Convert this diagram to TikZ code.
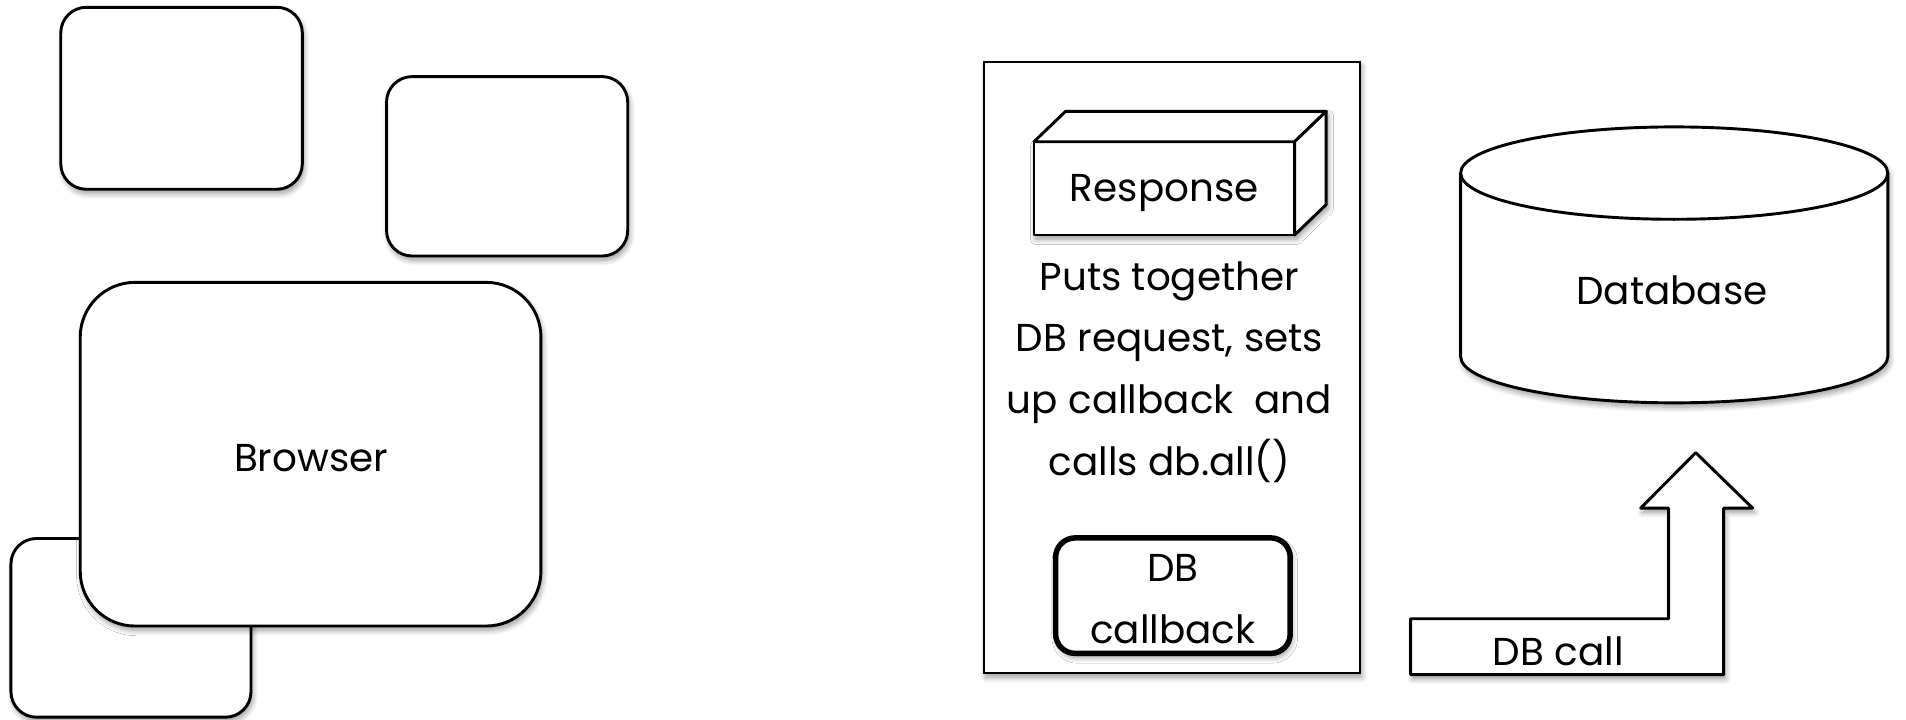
\documentclass[tikz,border=0pt]{standalone}
\usepackage{fontspec}
\setmainfont{Poppins}
\usetikzlibrary{shadows.blur}
\begin{document}
\begin{tikzpicture}[x=1pt,y=-1pt,
  softshadow/.style={blur shadow={shadow xshift=1.5pt, shadow yshift=-3.5pt,
      shadow blur radius=4.5pt, shadow blur steps=8, shadow opacity=40}},
  win/.style={draw, line width=2.4pt, fill=white, rounded corners=21pt,
      inner sep=0pt, outer sep=0pt, softshadow},
  lbl/.style={font=\fontsize{32}{50.7}\selectfont, align=center, inner sep=0pt},
  edge/.style={draw, line width=2.4pt, line join=round, fill=white},
]
\useasboundingbox (0,0) rectangle (1568,592);

% --- client side: stacked windows
\node[win, minimum width=198.7pt, minimum height=149.7pt] (winA) at (149.35,80.85) {};
\node[win, minimum width=198.4pt, minimum height=147.6pt] (winB) at (417.2,136.8) {};
\node[win, minimum width=197.5pt, minimum height=147pt] (winC) at (107.75,516.5) {};
\node[win, rounded corners=45pt, minimum width=379pt, minimum height=282.7pt]
  (browser) at (255.5,373.65) {};
\node[lbl] (browsertext) at (256,377) {Browser};

% --- server panel
\node[draw, line width=1.8pt, fill=white, minimum width=309.3pt, minimum height=503pt,
  inner sep=0pt, outer sep=0pt, softshadow] (panel) at (964.15,302.2) {};

% response object drawn as a box in perspective
\coordinate (fnw) at (850.6,116.6);
\coordinate (fne) at (1065,116.6);
\coordinate (fse) at (1065,193.3);
\coordinate (fsw) at (850.6,193.3);
\path[fill=white, softshadow] (fsw) -- (fnw) -- ++(26,-25) -- ++(214.4,0)
  -- ++(0,76.7) -- (fse) -- cycle;
\node[edge, minimum width=214.4pt, minimum height=76.7pt, inner sep=0pt, outer sep=0pt]
  (response) at (957.8,154.95) {};
\path[edge] (fnw) -- ++(26,-25) -- ++(214.4,0) -- (fne) -- cycle;
\path[edge] (fne) -- ++(26,-25) -- ++(0,76.7) -- (fse) -- cycle;
\node[lbl] (responsetext) at (957.8,158.5) {Response};

\node[lbl] (steps) at (962,306) {Puts together\\DB request, sets\\up callback\ \ and\\calls db.all()};

\node[draw, fill=white, line width=4.5pt, rounded corners=16pt, minimum width=193pt,
  minimum height=95pt, inner sep=0pt, softshadow] (cb) at (964.9,490) {};
\node[lbl] (cbtext) at (964.9,493) {DB\\callback};

% --- database
\path[fill=white, softshadow] (1201.6,142.4) -- (1201.6,293.4)
  arc[start angle=180, end angle=0, x radius=175.7, y radius=38]
  -- (1553,142.4)
  arc[start angle=0, end angle=-180, x radius=175.7, y radius=38] -- cycle;
\draw[line width=2.4pt, line join=round] (1201.6,142.4) -- (1201.6,293.4)
  arc[start angle=180, end angle=0, x radius=175.7, y radius=38]
  -- (1553,142.4);
\draw[line width=2.4pt] (1377.3,142.4) ellipse[x radius=175.7, y radius=38];
\node[lbl] (db) at (1375.5,239) {Database};

% --- DB call block arrow
\path[edge, softshadow] (1160.5,509) -- (1372.7,509) -- (1372.7,418) -- (1349.7,418)
  -- (1395,372.4) -- (1441.8,418) -- (1418,418) -- (1418,555) -- (1160.5,555) -- cycle;
\node[lbl] (dbcall) at (1282,536) {DB call};
\end{tikzpicture}
\end{document}
